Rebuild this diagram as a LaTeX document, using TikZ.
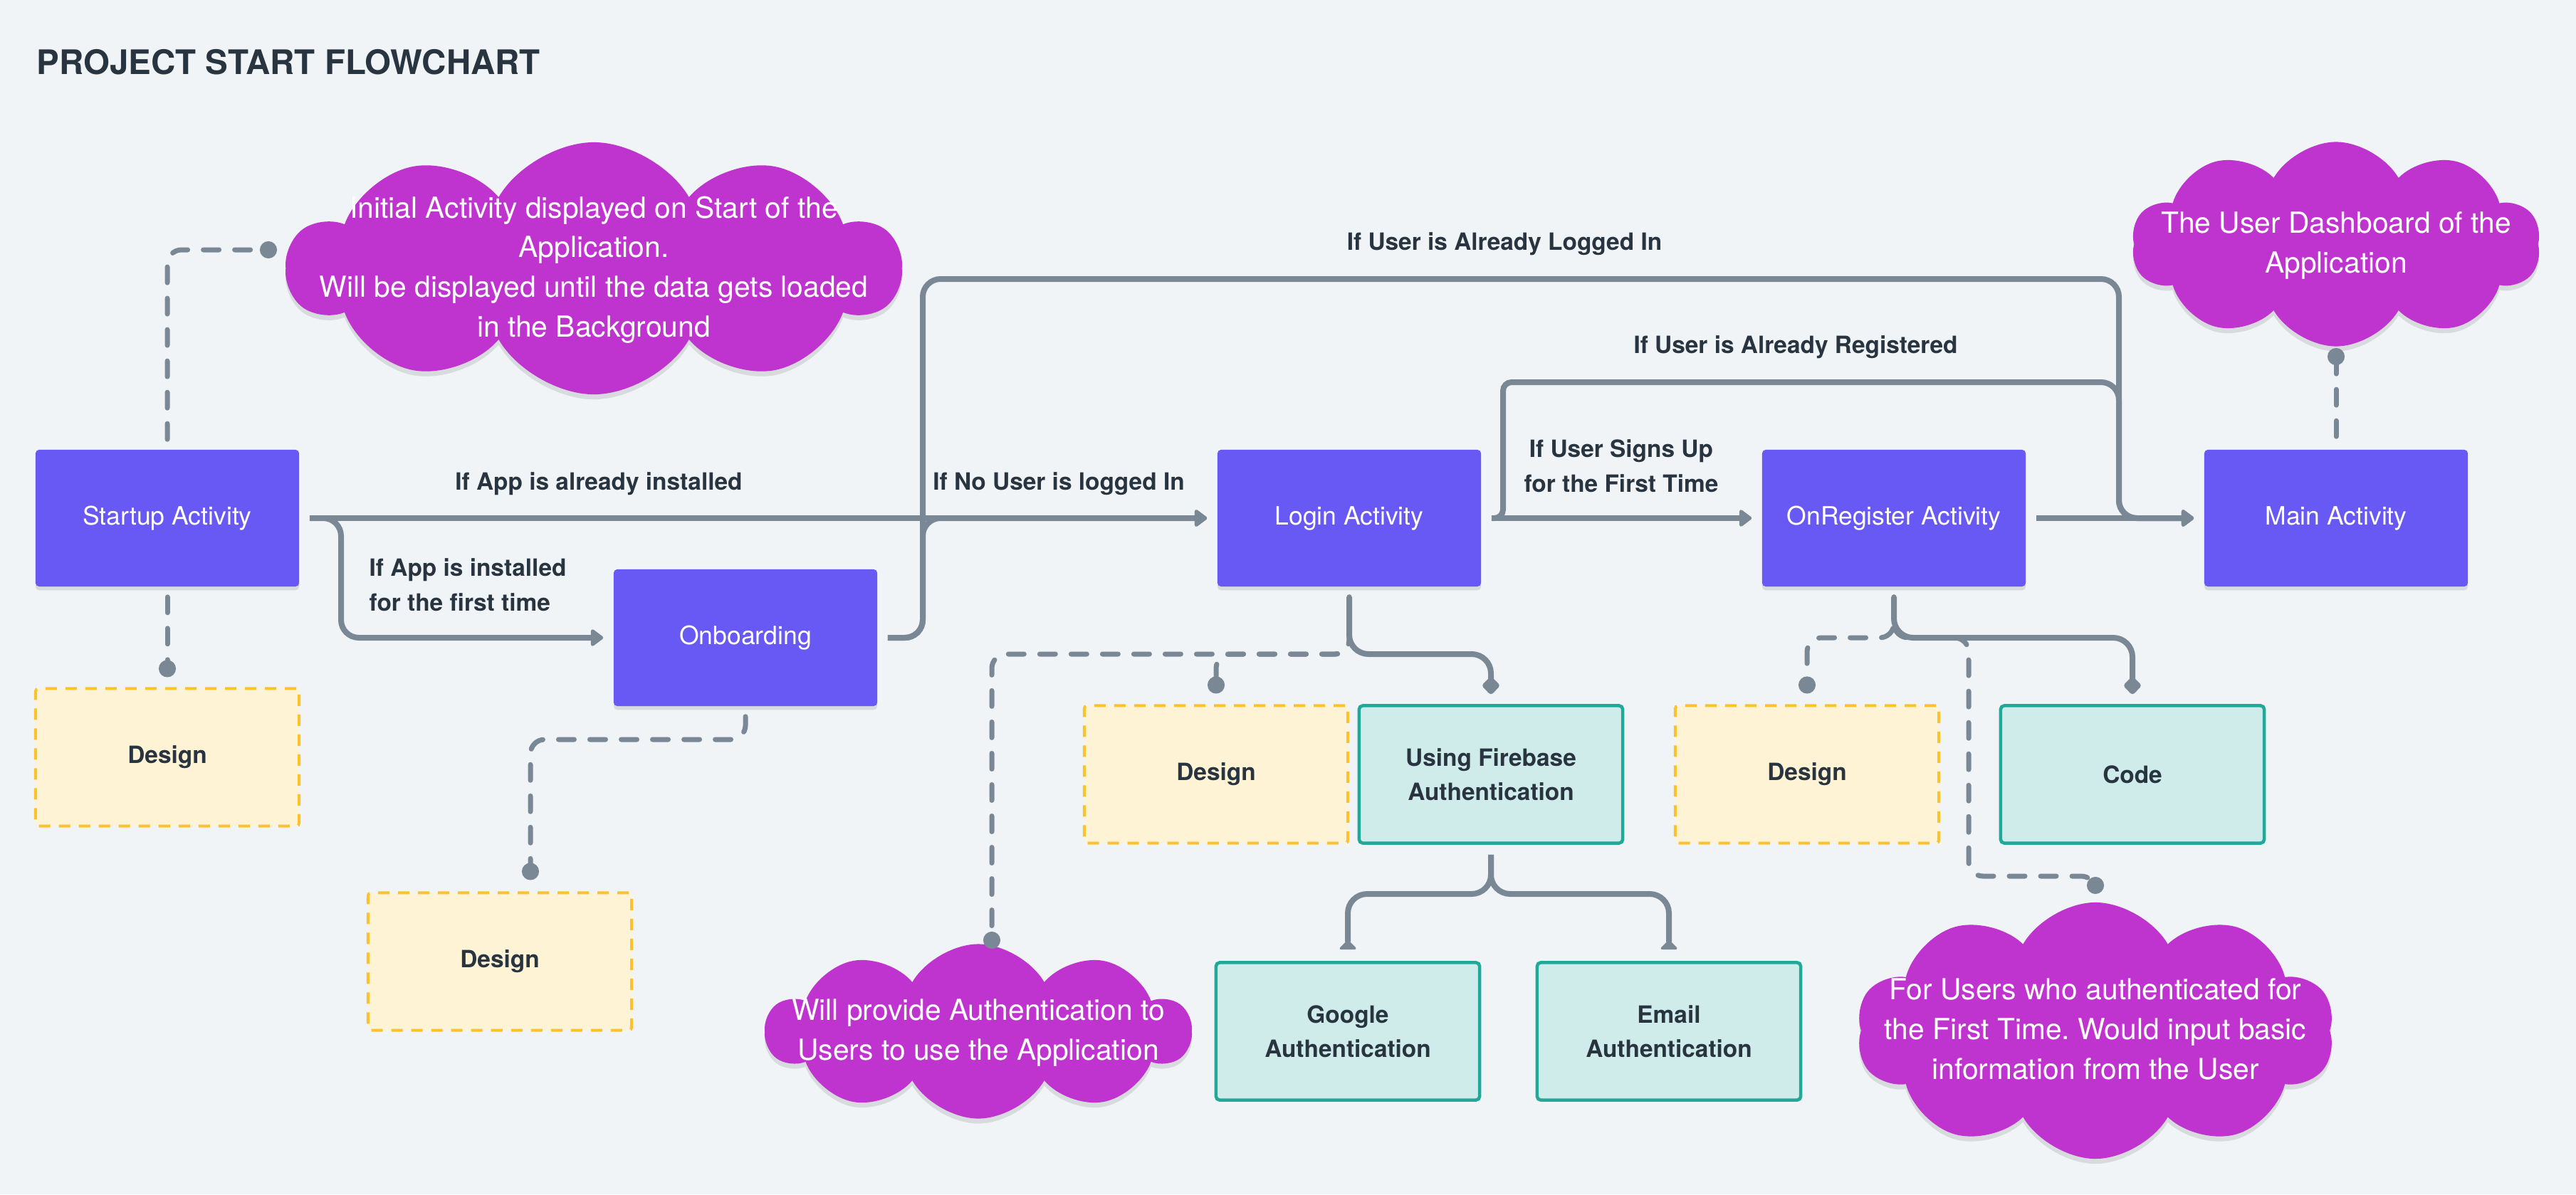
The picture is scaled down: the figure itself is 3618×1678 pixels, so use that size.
\documentclass[tikz,border=0pt]{standalone}
\usepackage{fontspec}
\setmainfont{TeX Gyre Heros}
\usetikzlibrary{arrows.meta,shapes.symbols,shadows,calc}
\definecolor{cBg}{HTML}{F0F4F7}
\definecolor{cAct}{HTML}{6858F4}
\definecolor{cYel}{HTML}{FFF3D5}
\definecolor{cYelB}{HTML}{FBC22C}
\definecolor{cTeal}{HTML}{CFECEA}
\definecolor{cTealB}{HTML}{20A999}
\definecolor{cCloud}{HTML}{BF34CF}
\definecolor{cLine}{HTML}{7A8896}
\definecolor{cDark}{HTML}{28343F}
\frenchspacing
\newcommand{\cloudtxt}[1]{\makebox[0pt]{\smash{\raisebox{-0.3em}{\begin{tabular}{@{}c@{}}#1\end{tabular}}}}}
\begin{document}
\begin{tikzpicture}[x=0.01cm,y=-0.01cm,
  act/.style={fill=cAct, rounded corners=0.05cm, minimum width=3.7cm, minimum height=1.92cm,
    text=white, font=\fontsize{10.1}{12}\selectfont,
    drop shadow={shadow xshift=0pt, shadow yshift=-1.5pt, opacity=0.10, fill=black}},
  designbox/.style={fill=cYel, draw=cYelB, dash pattern=on 0.16cm off 0.12cm, line width=0.04cm,
    rounded corners=0.04cm, minimum width=3.7cm, minimum height=1.93cm,
    text=cDark, font=\fontsize{9.5}{12}\selectfont\bfseries},
  tealbox/.style={fill=cTeal, draw=cTealB, line width=0.045cm, rounded corners=0.05cm,
    minimum width=3.7cm, minimum height=1.93cm, align=center,
    text=cDark, font=\fontsize{9.5}{13.7}\selectfont\bfseries},
  cloudnode/.style={cloud, cloud puffs=10, cloud puff arc=120, cloud ignores aspect,
    fill=cCloud, inner sep=0pt, text=white, font=\fontsize{11.6}{15.9}\selectfont,
    drop shadow={shadow xshift=0pt, shadow yshift=-2pt, opacity=0.10, fill=black}},
  lbl/.style={text=cDark, font=\fontsize{9.5}{13.9}\selectfont\bfseries, inner sep=0pt},
  flow/.style={draw=cLine, line width=0.08cm, rounded corners=0.25cm,
    -{Triangle[length=0.19cm,width=0.27cm,round]}, shorten <=0.14cm, shorten >=0.14cm},
  tree/.style={draw=cLine, line width=0.08cm, rounded corners=0.27cm, shorten <=0.14cm, shorten >=0.14cm},
  dline/.style={draw=cLine, line width=0.07cm, dash pattern=on 0.22cm off 0.22cm, line cap=round,
    rounded corners=0.2cm, -{Circle[length=0.24cm,width=0.24cm]}, shorten <=0.14cm}
]
\fill[cBg] (0,0) rectangle (3618,1678);
\useasboundingbox (0,0) rectangle (3618,1678);

% title
\node[anchor=base west, inner sep=0pt, text=cDark, font=\fontsize{13.5}{16}\selectfont\bfseries] (title) at (51,104) {PROJECT START FLOWCHART};

% main activities
\node[act] (startup) at (235,728) {Startup Activity};
\node[act] (onb) at (1047,896) {Onboarding};
\node[act] (login) at (1895,728) {Login Activity};
\node[act] (onreg) at (2660,728) {OnRegister Activity};
\node[act] (main) at (3281,728) {Main Activity};

% design / code boxes
\node[designbox] (design1) at (235,1064) {Design};
\node[designbox] (design2) at (702,1351) {Design};
\node[designbox] (design3) at (1708,1088) {Design};
\node[tealbox] (fire) at (2094,1088) {Using Firebase\\Authentication};
\node[tealbox] (google) at (1893,1449) {Google\\Authentication};
\node[tealbox] (email) at (2344,1449) {Email\\Authentication};
\node[designbox] (design4) at (2538,1088) {Design};
\node[tealbox] (code) at (2995,1088) {Code};

% clouds
\node[cloudnode, minimum width=8.6cm, minimum height=3.54cm] (cloud1) at (834,377)
  {\cloudtxt{Initial Activity displayed on Start of the\\Application.\\Will be displayed until the data gets loaded\\in the Background}};
\node[cloudnode, minimum width=5.74cm, minimum height=2.87cm] (cloud2) at (3281,343)
  {\cloudtxt{The User Dashboard of the\\Application}};
\node[cloudnode, minimum width=5.96cm, minimum height=2.45cm] (cloud3) at (1374,1449)
  {\cloudtxt{Will provide Authentication to\\Users to use the Application}};
\node[cloudnode, minimum width=6.71cm, minimum height=3.6cm] (cloud4) at (2943,1448)
  {\cloudtxt{For Users who authenticated for\\the First Time. Would input basic\\information from the User}};

% helper coordinates
\coordinate (bendB) at (479,0);
\coordinate (busX) at (1296,0);
\coordinate (rightX) at (2976,0);
\coordinate (regX) at (2111,0);
\coordinate (topY) at (0,392);
\coordinate (regY) at (0,537);
\coordinate (d1) at (389,351);
\coordinate (c2) at (745,1039);
\coordinate (s1) at (0,919);
\coordinate (cl3x) at (1393,0);
\coordinate (d3) at (1393,1333);
\coordinate (s2) at (0,1256);
\coordinate (s3) at (0,896);
\coordinate (c4x) at (2765,0);
\coordinate (c4y) at (0,1231);
\coordinate (d4) at (2943,1256);
\coordinate (d2) at (3281,489);

% dashed connectors
\draw[dline] (startup.north) |- (d1);
\draw[dline, shorten >=0.14cm] (startup.south) -- (design1.north);
\draw[dline, shorten >=0.16cm] (onb.south) -- (onb.south |- c2) -- (c2) -- (c2 |- design2.north);
\draw[dline] (login.south) -- (login.south |- s1) -- (cl3x |- s1) -- (d3);
\draw[dline, shorten >=0.15cm] (login.south) -- (login.south |- s1) -- (design3.north |- s1) -- (design3.north);
\draw[dline, shorten >=0.15cm] (onreg.south) -- (onreg.south |- s3) -- (design4.north |- s3) -- (design4.north);
\draw[dline] (onreg.south) -- (onreg.south |- s3) -- (c4x |- s3) -- (c4x |- c4y) -- (d4 |- c4y) -- (d4);
\draw[dline, shorten <=0.18cm] (main.north) -- (d2);

% solid tree connectors
\draw[tree, -{Diamond[length=0.27cm,width=0.27cm,round]}] (login.south) -- (login.south |- s1) -- (fire.north |- s1) -- (fire.north);
\draw[tree, -{Diamond[length=0.27cm,width=0.27cm,round]}] (onreg.south) -- (onreg.south |- s3) -- (code.north |- s3) -- (code.north);
\draw[tree, -{Triangle[reversed,length=0.14cm,width=0.27cm,round]}, shorten >=0.16cm] (fire.south) -- (fire.south |- s2) -- (google.north |- s2) -- (google.north);
\draw[tree, -{Triangle[reversed,length=0.14cm,width=0.27cm,round]}, shorten >=0.16cm] (fire.south) -- (fire.south |- s2) -- (email.north |- s2) -- (email.north);

% flow connectors
\draw[flow] (startup.east) -- (login.west);
\draw[flow] (startup.east) -- (startup.east -| bendB) -- (bendB |- onb.west) -- (onb.west);
\draw[flow] (onb.east) -- (onb.east -| busX) -- (busX |- login.west) -- (login.west);
\draw[flow] (onb.east) -- (onb.east -| busX) -- (busX |- topY) -- (rightX |- topY) -- (rightX |- main.west) -- (main.west);
\draw[flow] (login.east) -- (onreg.west);
\draw[flow, rounded corners=0.12cm] (login.east) -- (login.east -| regX) -- (regX |- regY) [rounded corners=0.25cm] -- (rightX |- regY) -- (rightX |- main.west) -- (main.west);
\draw[flow] (onreg.east) -- (main.west);

% connector labels
\node[lbl] (l1) at (841,680) {If App is already installed};
\node[lbl, anchor=west, align=left] (l2) at (518,822) {If App is installed\\for the first time};
\node[lbl] (l3) at (1487,680) {If No User is logged In};
\node[lbl] (l4) at (2113,343) {If User is Already Logged In};
\node[lbl] (l5) at (2522,488) {If User is Already Registered};
\node[lbl, align=center] (l6) at (2277,655) {If User Signs Up\\for the First Time};
\end{tikzpicture}
\end{document}
